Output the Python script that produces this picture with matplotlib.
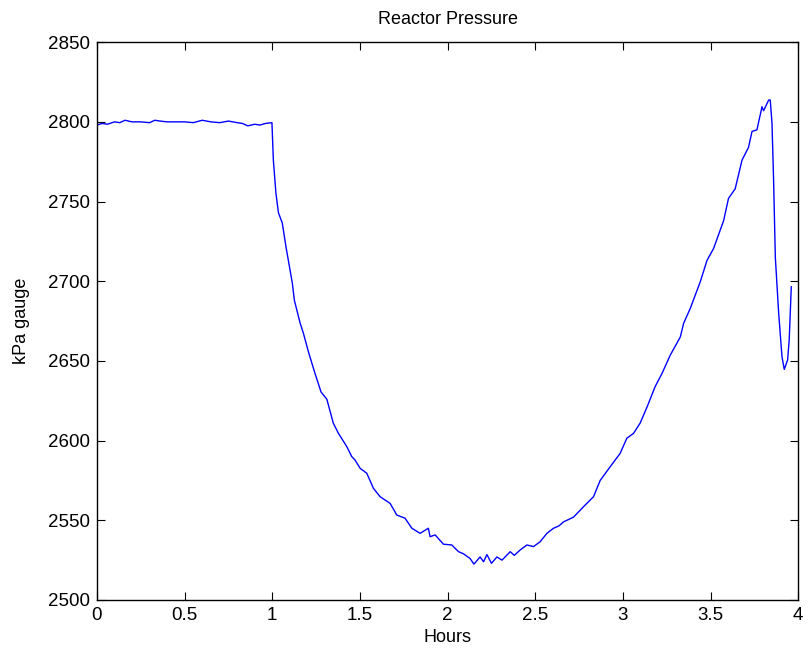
import matplotlib
matplotlib.use("Agg")
import matplotlib.pyplot as plt

plt.rcParams['font.family'] = ['Liberation Sans', 'DejaVu Sans']

# Hours and pressure readings (kPa gauge)
hours = [0.000, 0.030, 0.060, 0.100, 0.130, 0.160, 0.200, 0.250, 0.300, 0.330,
         0.360, 0.400, 0.450, 0.500, 0.550, 0.600, 0.650, 0.700, 0.750, 0.800,
         0.830, 0.860, 0.900, 0.930, 0.960, 0.998,
         1.006, 1.021, 1.035, 1.057, 1.078, 1.114, 1.126, 1.158, 1.177, 1.208,
         1.244, 1.278, 1.311, 1.348, 1.377, 1.425, 1.453, 1.472, 1.501, 1.539,
         1.577, 1.615, 1.672, 1.710, 1.757, 1.796, 1.843, 1.890, 1.900, 1.929,
         1.976, 2.024, 2.062, 2.090, 2.128, 2.150, 2.185, 2.205, 2.224, 2.250,
         2.281, 2.310, 2.357, 2.380, 2.414, 2.452, 2.490, 2.528, 2.566, 2.604,
         2.635, 2.661, 2.690, 2.718, 2.775, 2.832, 2.870, 2.927, 2.984, 3.022,
         3.060, 3.098, 3.137, 3.184, 3.222, 3.270, 3.327, 3.346, 3.384, 3.441,
         3.479, 3.517, 3.574, 3.602, 3.640, 3.679, 3.716, 3.736, 3.764, 3.793,
         3.802, 3.831, 3.840, 3.850, 3.859, 3.869, 3.888, 3.907, 3.920, 3.939,
         3.948, 3.960]
kpa = [2798.0, 2799.0, 2798.5, 2800.0, 2799.5, 2801.0, 2800.0, 2800.0, 2799.5, 2801.0,
       2800.5, 2800.0, 2800.0, 2800.0, 2799.5, 2801.0, 2800.0, 2799.5, 2800.5, 2799.5,
       2799.0, 2797.5, 2798.5, 2798.0, 2799.0, 2799.5,
       2776.0, 2755.0, 2743.0, 2736.5, 2721.6, 2699.0, 2688.0, 2674.0, 2667.5, 2655.0,
       2642.0, 2630.5, 2626.0, 2610.9, 2604.6, 2596.2, 2590.0, 2587.8, 2582.6, 2579.5,
       2570.0, 2564.8, 2560.6, 2553.3, 2551.3, 2545.0, 2541.8, 2545.0, 2539.7, 2540.8,
       2535.0, 2534.5, 2530.3, 2529.0, 2526.0, 2522.5, 2527.0, 2524.0, 2528.5, 2523.0,
       2527.0, 2525.0, 2530.3, 2528.0, 2531.4, 2534.5, 2533.5, 2536.6, 2541.8, 2545.0,
       2546.5, 2549.0, 2550.5, 2552.0, 2558.5, 2564.8, 2575.0, 2583.6, 2592.0, 2601.5,
       2604.5, 2611.0, 2621.0, 2634.0, 2642.0, 2653.7, 2665.0, 2673.6, 2683.0, 2699.7,
       2713.0, 2720.6, 2738.0, 2752.0, 2758.0, 2776.0, 2784.0, 2794.0, 2795.0, 2809.5,
       2807.0, 2813.7, 2813.7, 2799.0, 2763.5, 2715.0, 2680.0, 2652.6, 2644.7, 2650.6,
       2663.0, 2696.5]

x_ticks = [0, 0.5, 1, 1.5, 2, 2.5, 3, 3.5, 4]
x_tick_labels = ['0', '0.5', '1', '1.5', '2', '2.5', '3', '3.5', '4']
y_ticks = [2500, 2550, 2600, 2650, 2700, 2750, 2800, 2850]

fig = plt.figure(figsize=(8.08, 6.57), dpi=100)
ax = fig.add_axes([0.120, 0.0868, 0.868, 0.849])

ax.plot(hours, kpa, color='#0000ff', linewidth=1.0)

ax.set_xlim(0, 4)
ax.set_ylim(2500, 2850)
ax.set_xticks(x_ticks)
ax.set_xticklabels(x_tick_labels)
ax.set_yticks(y_ticks)
ax.tick_params(direction='in', length=6, width=0.8, top=True, right=True,
               labelsize=13.5, pad=5, colors='black')
for s in ax.spines.values():
    s.set_linewidth(1.0)

ax.set_title('Reactor Pressure', fontsize=13, pad=13)
ax.set_xlabel('Hours', fontsize=13, labelpad=4)
ax.set_ylabel('kPa gauge', fontsize=13, labelpad=13)

fig.savefig('out.png', dpi=100)
